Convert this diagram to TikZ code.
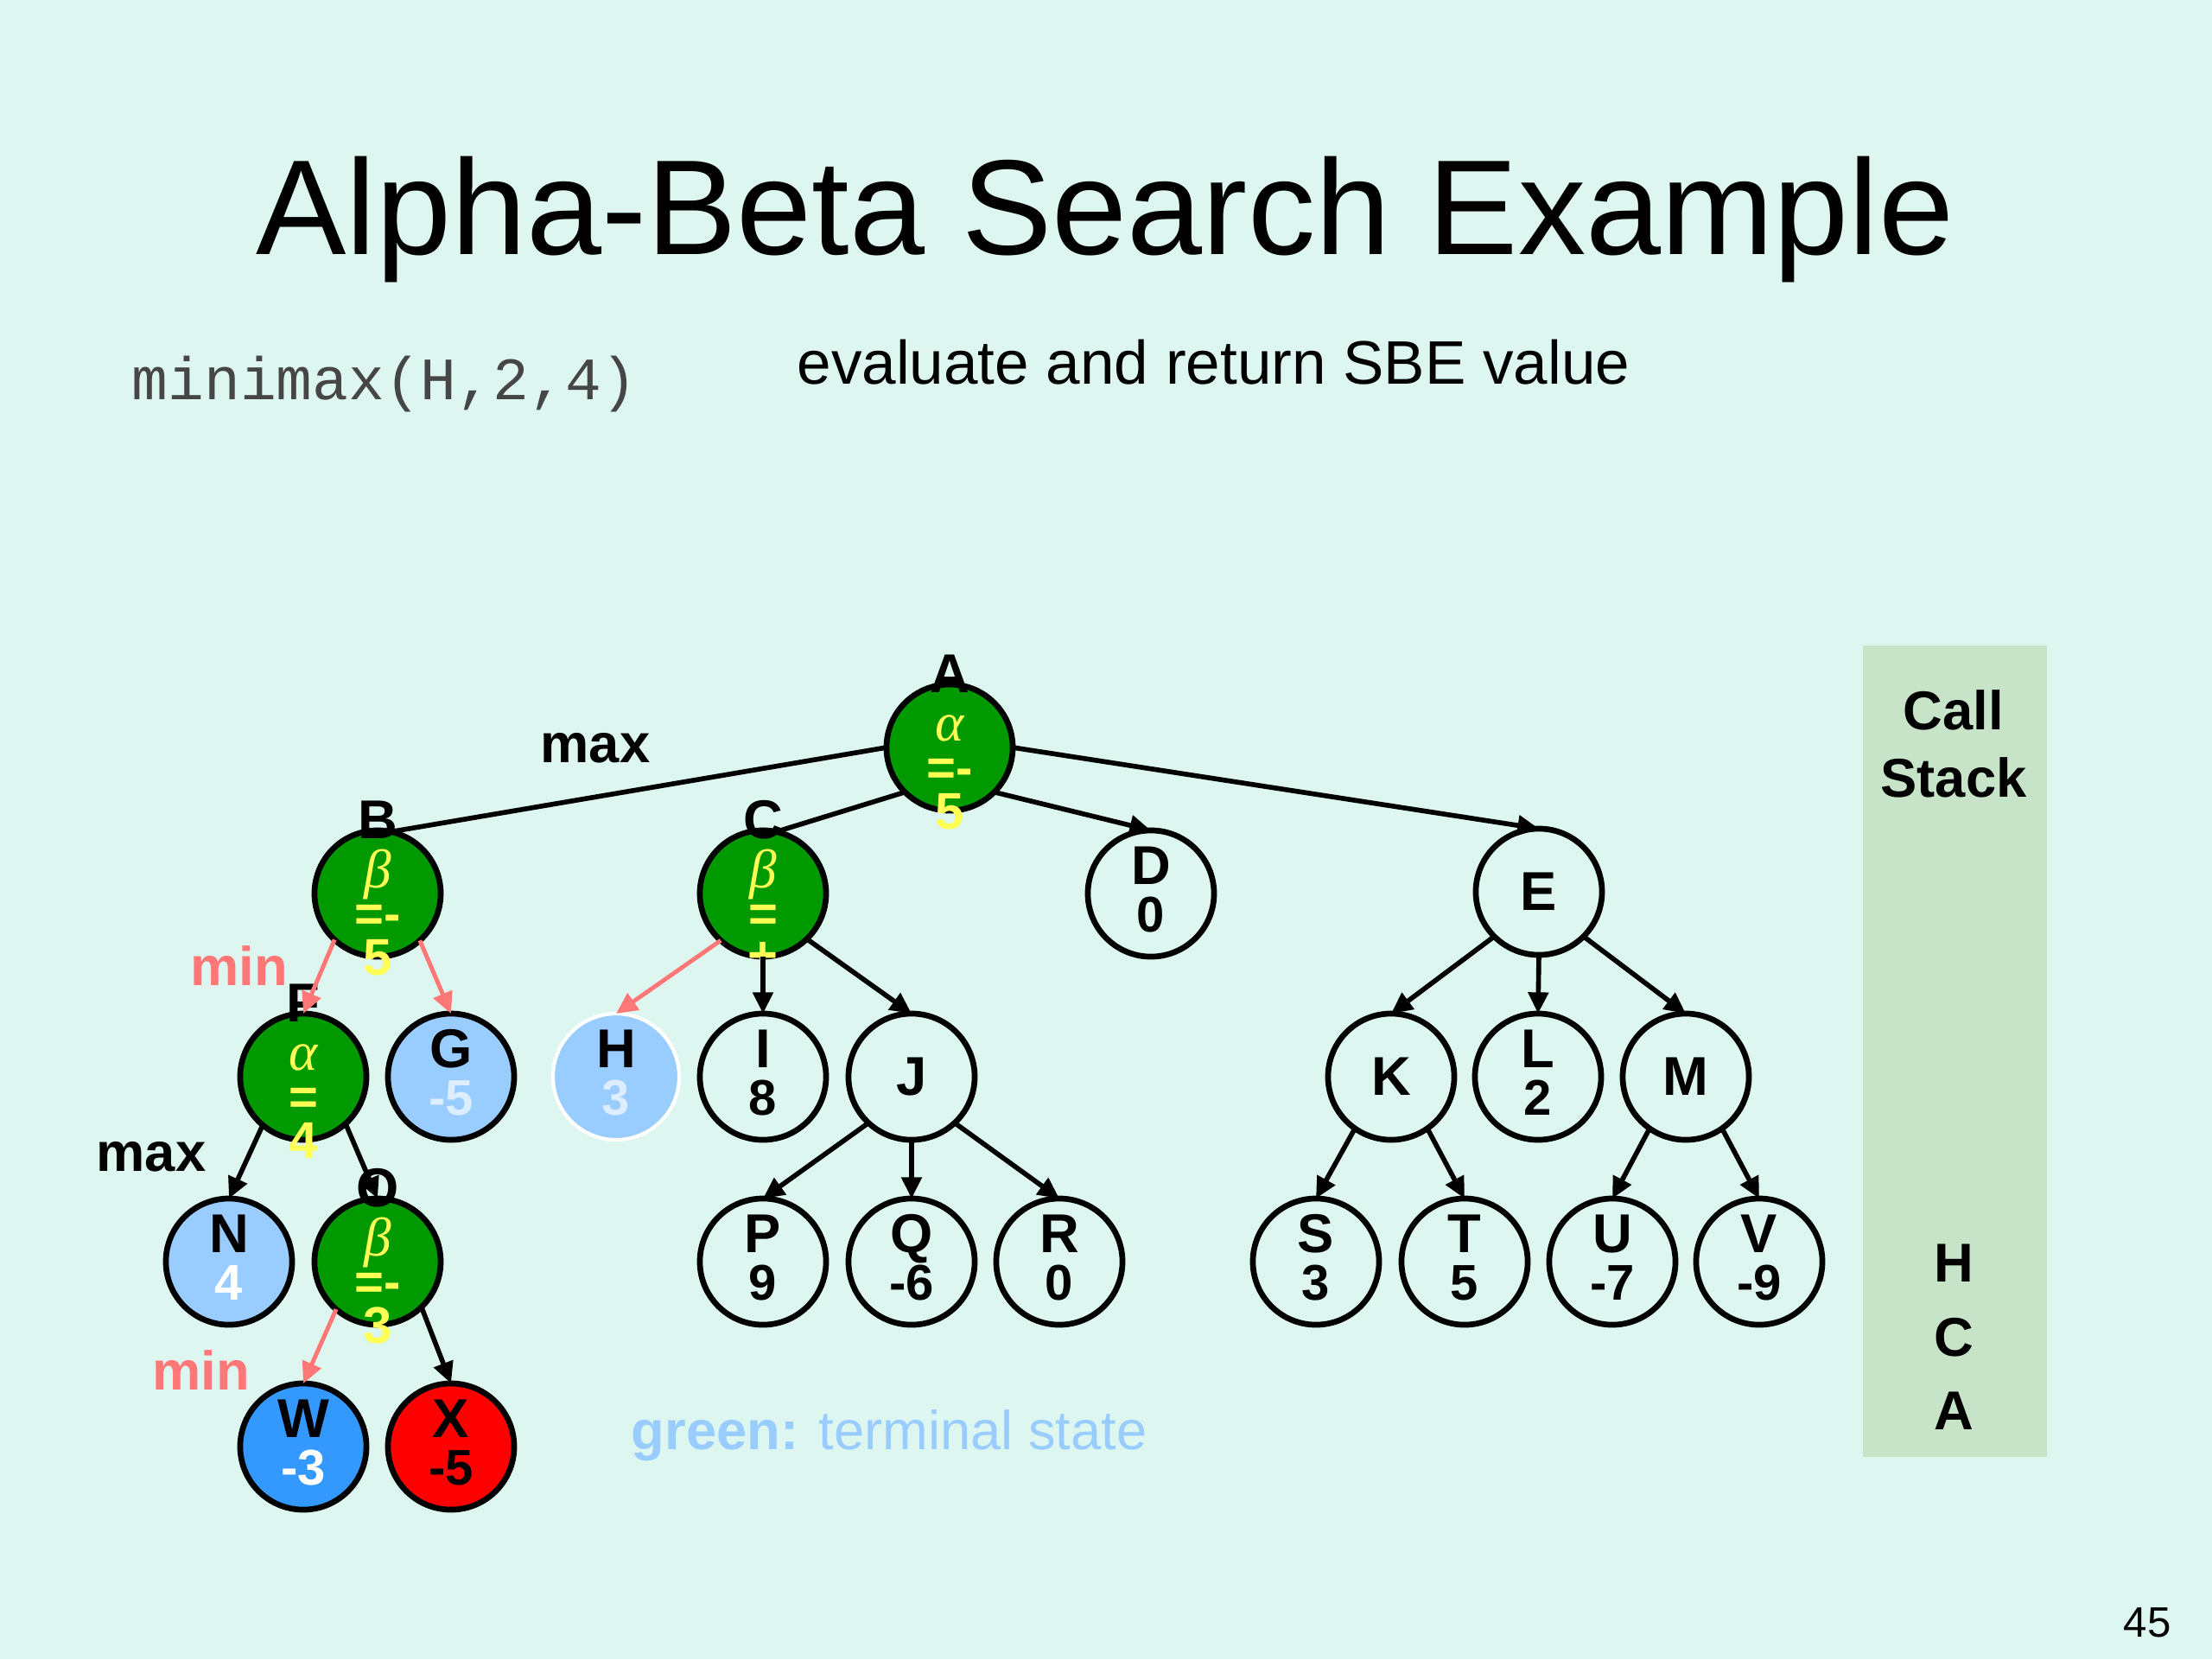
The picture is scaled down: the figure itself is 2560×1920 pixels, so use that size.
\documentclass[tikz,border=0pt]{standalone}
\usepackage{fontspec}
\setmainfont{Liberation Sans}
\newfontfamily\monofont{Liberation Mono}
\newfontfamily\greekfont{Liberation Serif}
\usetikzlibrary{arrows.meta,calc}
\definecolor{bgcol}{RGB}{222,246,240}
\definecolor{nodegreen}{RGB}{0,153,0}
\definecolor{yel}{RGB}{255,255,85}
\definecolor{ltblue}{RGB}{153,204,255}
\definecolor{midblue}{RGB}{51,153,255}
\definecolor{paleval}{RGB}{220,238,255}
\definecolor{pinkc}{RGB}{255,119,119}
\definecolor{stackgreen}{RGB}{200,228,200}
\definecolor{codegray}{RGB}{70,70,70}
\newcommand\mkleaf[7]{%
  \node[circ,#6] (#1) at (#2,#3) {};
  \node[lettxt,anchor=base] (#1l) at ($(#1)+(0,-11)$) {#4};
  \node[valtxt,anchor=base,text=#7] (#1v) at ($(#1)+(0,44)$) {#5};}
\newcommand\mkinner[4]{%
  \node[circ] (#1) at (#2,#3) {};
  \node[lettxt,anchor=base] (#1l) at ($(#1)+(0,21)$) {#4};}
\newcommand\mkgreen[7]{%
  \node[gcirc] (#1) at (#2,#3) {};
  \node[lettxt,anchor=base] (#1l) at ($(#1)+(0,-64)$) {#4};
  \node[grktxt] (#1g) at ($(#1)+(0,-22)$) {#5};
  \node[eqtxt] (#1e) at ($(#1)+(0,28)$) {#6};
  \node[numtxt] (#1n) at ($(#1)+(0,74)$) {#7};}
\begin{document}
\begin{tikzpicture}[x=0.01cm,y=-0.01cm,
  circ/.style={circle,draw=black,line width=1.9pt,minimum size=1.46cm,inner sep=0pt,outer sep=0pt},
  gcirc/.style={circ,fill=nodegreen},
  lettxt/.style={inner sep=0pt,font=\fontsize{18}{20}\selectfont\bfseries},
  valtxt/.style={inner sep=0pt,font=\fontsize{16.5}{18}\selectfont\bfseries},
  grktxt/.style={inner sep=0pt,text=yel,font=\fontsize{18}{20}\selectfont\greekfont\itshape},
  eqtxt/.style={inner sep=0pt,text=yel,font=\fontsize{16.5}{18}\selectfont\bfseries},
  numtxt/.style={inner sep=0pt,text=yel,font=\fontsize{17}{18}\selectfont\bfseries},
  edge/.style={line width=1.6pt,draw=black},
  arr/.style={edge,-{Triangle[length=7pt,width=6.5pt]}},
  parr/.style={arr,draw=pinkc,line width=1.4pt},
  lbl/.style={inner sep=0pt,anchor=base west,font=\fontsize{18}{20}\selectfont\bfseries},
  stacktxt/.style={inner sep=0pt,anchor=base,font=\fontsize{18}{20}\selectfont\bfseries}]
\useasboundingbox (0,0) rectangle (2560,1920);
\fill[bgcol] (0,0) rectangle (2560,1920);

% title and headers
\node[inner sep=0pt,anchor=base,font=\fontsize{44.5}{50}\selectfont] (title) at (1279,294) {Alpha-Beta Search Example};
\node[inner sep=0pt,anchor=base west,text=codegray,font=\monofont\fontsize{19.8}{22}\selectfont] (callname) at (152,462) {minimax(H,2,4)};
\node[inner sep=0pt,anchor=base west,font=\fontsize{20.2}{24}\selectfont] (evaltxt) at (922,444) {evaluate and return SBE value};

% call stack
\node[fill=stackgreen,minimum width=2.13cm,minimum height=9.39cm,inner sep=0pt,anchor=north west] (stack) at (2155,746) {};
\node[stacktxt] (st1) at (2261,844) {Call};
\node[stacktxt] (st2) at (2261,922) {Stack};
\node[stacktxt] (sH) at (2261,1483) {H};
\node[stacktxt] (sC) at (2261,1569) {C};
\node[stacktxt] (sA) at (2261,1654) {A};

% nodes
\mkgreen{A}{1099}{865}{A}{α}{=-}{5}
\mkgreen{B}{437}{1034}{B}{β}{=-}{5}
\mkgreen{C}{883}{1034}{C}{β}{=}{+}
\mkleaf{D}{1332}{1034}{D}{0}{}{black}
\mkinner{E}{1781}{1032}{E}
\mkgreen{F}{351}{1246}{F}{α}{=}{4}
\mkleaf{G}{522}{1246}{G}{-5}{fill=ltblue}{paleval}
\mkleaf{H}{713}{1246}{H}{3}{fill=ltblue,draw=white,line width=1.2pt}{paleval}
\mkleaf{I}{883}{1246}{I}{8}{}{black}
\mkinner{J}{1055}{1246}{J}
\mkinner{K}{1610}{1246}{K}
\mkleaf{L}{1780}{1246}{L}{2}{}{black}
\mkinner{M}{1951}{1246}{M}
\mkleaf{N}{265}{1460}{N}{4}{fill=ltblue}{white}
\mkgreen{O}{437}{1460}{O}{β}{=-}{3}
\mkleaf{P}{883}{1460}{P}{9}{}{black}
\mkleaf{Q}{1055}{1460}{Q}{-6}{}{black}
\mkleaf{R}{1226}{1460}{R}{0}{}{black}
\mkleaf{S}{1523}{1460}{S}{3}{}{black}
\mkleaf{T}{1695}{1460}{T}{5}{}{black}
\mkleaf{U}{1866}{1460}{U}{-7}{}{black}
\mkleaf{V}{2036}{1460}{V}{-9}{}{black}
\mkleaf{W}{351}{1674}{W}{-3}{fill=midblue}{white}
\mkleaf{X}{522}{1674}{X}{-5}{fill=red}{black}

% connectors
\draw[edge] (A.180) -- (B.78);
\draw[edge] (A.225) -- (C.78);
\draw[arr] (A.-45) -- (D.north);
\draw[arr] (A.0) -- (E.north);
\draw[parr] (B.227) -- (F.north);
\draw[parr] (B.-48) -- (G.north);
\draw[parr] (C.228) -- (H.north);
\draw[arr] (C.south) -- (I.north);
\draw[arr] (C.-46) -- (J.north);
\draw[arr] (F.230) -- (N.north);
\draw[arr] (F.-48) -- (O.north);
\draw[parr] (O.229) -- (W.north);
\draw[arr] (O.-46) -- (X.north);
\draw[arr] (J.227) -- (P.north);
\draw[arr] (J.south) -- (Q.north);
\draw[arr] (J.-47) -- (R.north);
\draw[arr] (E.225) -- (K.north);
\draw[arr] (E.south) -- (L.north);
\draw[arr] (E.-45) -- (M.north);
\draw[arr] (K.235) -- (S.north);
\draw[arr] (K.-55) -- (T.north);
\draw[arr] (M.235) -- (U.north);
\draw[arr] (M.-55) -- (V.north);

% level labels
\node[lbl] (max1) at (625,882) {max};
\node[lbl] (max2) at (111,1355) {max};
\node[lbl,text=pinkc] (min1) at (220,1140) {min};
\node[lbl,text=pinkc] (min2) at (176,1608) {min};

% legend and page number
\node[inner sep=0pt,anchor=base west,text=ltblue,font=\fontsize{18}{20}\selectfont] (legend) at (730,1677) {\textbf{green:} terminal state};
\node[inner sep=0pt,anchor=base west,font=\fontsize{14}{16}\selectfont] (pagenum) at (2457,1894) {45};
\end{tikzpicture}
\end{document}
